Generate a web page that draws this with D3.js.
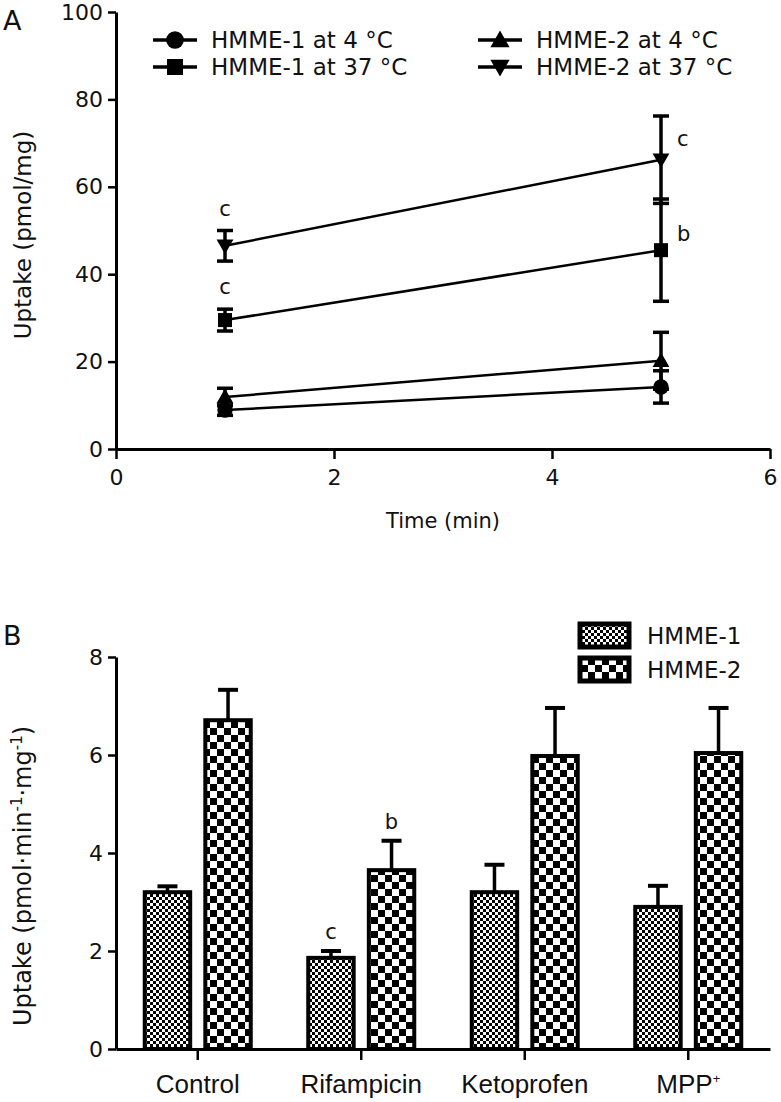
<!DOCTYPE html>
<html>
<head>
<meta charset="utf-8">
<script src="https://d3js.org/d3.v7.min.js"></script>
<style>
body { margin: 0; background: #fff; }
svg { display: block; font-family: "DejaVu Sans", sans-serif; }
</style>
</head>
<body>
<svg id="chart" width="781" height="1102"></svg>
<script>
// panel A data
const times = [1, 5];
const seriesNames = ["HMME-1 at 4 °C", "HMME-1 at 37 °C", "HMME-2 at 4 °C", "HMME-2 at 37 °C"];
const seriesSymbols = ["circle", "square", "triangle", "triangleDown"];
const hmme1Cold = [8.9, 14.2];
const hmme1ColdSd = [1.2, 3.7];
const hmme1Warm = [29.5, 45.5];
const hmme1WarmSd = [2.5, 11.7];
const hmme2Cold = [11.9, 20.2];
const hmme2ColdSd = [2.0, 6.5];
const hmme2Warm = [46.5, 66.2];
const hmme2WarmSd = [3.5, 10.0];
const lineLetters = [["", ""], ["c", "b"], ["", ""], ["c", "c"]];
const xTicksA = [0, 2, 4, 6];
const yTicksA = [0, 20, 40, 60, 80, 100];

// panel B data
const groups = ["Control", "Rifampicin", "Ketoprofen", "MPP+"];
const barSeries = ["HMME-1", "HMME-2"];
const hmme1Bars = [3.2, 1.86, 3.2, 2.9];
const hmme1BarSd = [0.12, 0.14, 0.56, 0.43];
const hmme2Bars = [6.71, 3.65, 5.98, 6.04];
const hmme2BarSd = [0.62, 0.6, 0.98, 0.92];
const barLetters = [["", ""], ["c", "b"], ["", ""], ["", ""]];
const yTicksB = [0, 2, 4, 6, 8];

const svg = d3.select("#chart");
const defs = svg.append("defs");
const ink = "#111";

// fine checker for HMME-1
const p1 = defs.append("pattern").attr("id", "fine").attr("patternUnits", "userSpaceOnUse")
  .attr("width", 6).attr("height", 6);
p1.append("rect").attr("width", 6).attr("height", 6).attr("fill", "#fff");
p1.append("rect").attr("width", 3).attr("height", 3).attr("fill", "#000");
p1.append("rect").attr("x", 3).attr("y", 3).attr("width", 3).attr("height", 3).attr("fill", "#000");
// coarse checker for HMME-2
const p2 = defs.append("pattern").attr("id", "coarse").attr("patternUnits", "userSpaceOnUse")
  .attr("width", 14).attr("height", 14);
p2.append("rect").attr("width", 14).attr("height", 14).attr("fill", "#fff");
p2.append("rect").attr("width", 7).attr("height", 7).attr("fill", "#000");
p2.append("rect").attr("x", 7).attr("y", 7).attr("width", 7).attr("height", 7).attr("fill", "#000");

function styleAxis(g) {
  g.attr("font-family", null);
  g.select(".domain").attr("stroke-width", 3);
  g.selectAll(".tick line").attr("stroke-width", 2.5);
  g.selectAll(".tick text").attr("font-size", 22).attr("fill", ink);
}

// ---------- Panel A ----------
const xA = d3.scaleLinear().domain([0, 6]).range([116, 770]);
const yA = d3.scaleLinear().domain([0, 100]).range([449, 12]);

svg.append("g").attr("transform", "translate(0,449)")
  .call(d3.axisBottom(xA).tickValues(xTicksA).tickFormat(d3.format("d")).tickSize(10).tickSizeOuter(0).tickPadding(10))
  .call(styleAxis);
svg.append("g").attr("transform", "translate(116,0)")
  .call(d3.axisLeft(yA).tickValues(yTicksA).tickFormat(d3.format("d")).tickSize(8).tickSizeOuter(0).tickPadding(5))
  .call(styleAxis);

svg.append("text").attr("x", xA(3)).attr("y", 528).attr("text-anchor", "middle")
  .attr("font-size", 21).attr("fill", ink).text("Time (min)");
svg.append("text").attr("transform", "translate(31,235) rotate(-90)")
  .attr("text-anchor", "middle").attr("font-size", 23).attr("fill", ink).text("Uptake (pmol/mg)");
svg.append("text").attr("x", 3).attr("y", 30).attr("font-size", 27).attr("fill", ink).text("A");

const lineData = [
  { vals: hmme1Cold, sd: hmme1ColdSd },
  { vals: hmme1Warm, sd: hmme1WarmSd },
  { vals: hmme2Cold, sd: hmme2ColdSd },
  { vals: hmme2Warm, sd: hmme2WarmSd }
];

function drawSymbol(g, type, cx, cy, s) {
  if (type === "circle") g.append("circle").attr("cx", cx).attr("cy", cy).attr("r", s * 0.55);
  else if (type === "square") g.append("rect").attr("x", cx - s / 2).attr("y", cy - s / 2).attr("width", s).attr("height", s);
  else if (type === "triangle") g.append("path").attr("d", `M${cx},${cy - s * 0.6}L${cx + s * 0.6},${cy + s * 0.45}L${cx - s * 0.6},${cy + s * 0.45}Z`);
  else g.append("path").attr("d", `M${cx},${cy + s * 0.6}L${cx + s * 0.6},${cy - s * 0.45}L${cx - s * 0.6},${cy - s * 0.45}Z`);
}

const line = d3.line().x((d, i) => xA(times[i])).y(d => yA(d));
const gA = svg.append("g");
lineData.forEach((s, k) => {
  const g = gA.append("g").attr("fill", "#000").attr("stroke", "#000");
  g.append("path").attr("d", line(s.vals)).attr("fill", "none").attr("stroke-width", 2.5);
  s.vals.forEach((v, i) => {
    const cx = xA(times[i]);
    g.append("line").attr("x1", cx).attr("x2", cx).attr("y1", yA(v - s.sd[i])).attr("y2", yA(v + s.sd[i])).attr("stroke-width", 3.5);
    [v - s.sd[i], v + s.sd[i]].forEach(e => g.append("line").attr("x1", cx - 8).attr("x2", cx + 8)
      .attr("y1", yA(e)).attr("y2", yA(e)).attr("stroke-width", 3.5));
    drawSymbol(g.append("g").attr("stroke", "none"), seriesSymbols[k], cx, yA(v), 14);
    const lt = lineLetters[k][i];
    if (lt) {
      if (i === 0) gA.append("text").attr("x", cx).attr("y", yA(v + s.sd[i]) - 15).attr("text-anchor", "middle")
        .attr("font-size", 21).attr("fill", ink).text(lt);
      else gA.append("text").attr("x", cx + 16).attr("y", k === 3 ? 146 : 241).attr("text-anchor", "start")
        .attr("font-size", 21).attr("fill", ink).text(lt);
    }
  });
});

// legend A
const legA = svg.append("g");
seriesNames.forEach((n, k) => {
  const col = k < 2 ? 0 : 1, row = k % 2;
  const x0 = col === 0 ? 153 : 478, y0 = 40 + row * 27;
  const g = legA.append("g").attr("fill", "#000").attr("stroke", "#000");
  g.append("line").attr("x1", x0).attr("x2", x0 + 44).attr("y1", y0).attr("y2", y0).attr("stroke-width", 3.5);
  drawSymbol(g.append("g").attr("stroke", "none"), seriesSymbols[k], x0 + 22, y0, 16);
  legA.append("text").attr("x", x0 + 58).attr("y", y0 + 8).attr("font-size", 23).attr("fill", ink).text(n);
});

// ---------- Panel B ----------
const x0B = d3.scaleBand().domain(groups).range([116, 770]).paddingInner(0).paddingOuter(0);
const x1B = d3.scaleBand().domain(barSeries).range([-53, 53]).paddingInner(0.25);
const yB = d3.scaleLinear().domain([0, 8]).range([1049, 657]);

const barData = [
  { vals: hmme1Bars, sd: hmme1BarSd, fill: "url(#fine)" },
  { vals: hmme2Bars, sd: hmme2BarSd, fill: "url(#coarse)" }
];
const gB = svg.append("g");
barData.forEach((s, k) => {
  groups.forEach((grp, i) => {
    const cx = x0B(grp) + x0B.bandwidth() / 2;
    const bx = cx + x1B(barSeries[k]);
    const bw = x1B.bandwidth();
    const mid = bx + bw / 2;
    const top = yB(s.vals[i] + s.sd[i]);
    gB.append("line").attr("x1", mid).attr("x2", mid).attr("y1", yB(s.vals[i])).attr("y2", top)
      .attr("stroke", "#000").attr("stroke-width", 3.5);
    gB.append("line").attr("x1", mid - 10).attr("x2", mid + 10).attr("y1", top).attr("y2", top)
      .attr("stroke", "#000").attr("stroke-width", 4);
    gB.append("rect").attr("x", bx).attr("y", yB(s.vals[i])).attr("width", bw)
      .attr("height", yB(0) - yB(s.vals[i])).attr("fill", s.fill).attr("stroke", "#000").attr("stroke-width", 4);
    const lt = barLetters[i][k];
    if (lt) gB.append("text").attr("x", mid).attr("y", top - 12).attr("text-anchor", "middle")
      .attr("font-size", 21).attr("fill", ink).text(lt);
  });
});

const axB = svg.append("g").attr("transform", "translate(0,1049)")
  .call(d3.axisBottom(x0B).tickSize(11).tickSizeOuter(0).tickPadding(15))
  .call(styleAxis);
axB.selectAll(".tick text").attr("font-size", 26).attr("font-family", "Liberation Sans, Arial, sans-serif").text(null)
  .each(function (d) {
    const t = d3.select(this);
    if (d === "MPP+") { t.append("tspan").text("MPP"); t.append("tspan").attr("font-size", 13).attr("dy", -10).text("+"); }
    else t.text(d);
  });
svg.append("g").attr("transform", "translate(116,0)")
  .call(d3.axisLeft(yB).tickValues(yTicksB).tickSize(8).tickSizeOuter(0).tickPadding(5))
  .call(styleAxis);

const yl = svg.append("text").attr("transform", "translate(31,876) rotate(-90)")
  .attr("text-anchor", "middle").attr("font-size", 24).attr("fill", ink);
yl.append("tspan").text("Uptake (pmol·min");
yl.append("tspan").attr("font-size", 15).attr("dy", -9).text("-1");
yl.append("tspan").attr("dy", 9).text("·mg");
yl.append("tspan").attr("font-size", 15).attr("dy", -9).text("-1");
yl.append("tspan").attr("dy", 9).text(")");
svg.append("text").attr("x", 3).attr("y", 645).attr("font-size", 27).attr("fill", ink).text("B");

// legend B
barSeries.forEach((n, k) => {
  const y0 = 624 + k * 34;
  svg.append("rect").attr("x", 580).attr("y", y0).attr("width", 49).attr("height", 23)
    .attr("fill", barData[k].fill).attr("stroke", "#000").attr("stroke-width", 5);
  svg.append("text").attr("x", 647).attr("y", y0 + 20).attr("font-size", 23).attr("fill", ink).text(n);
});
</script>
</body>
</html>
